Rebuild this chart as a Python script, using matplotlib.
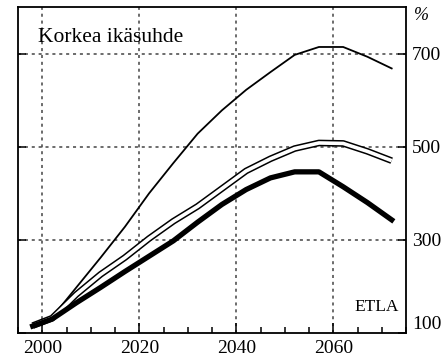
import matplotlib
matplotlib.use("Agg")
import matplotlib.pyplot as plt
from matplotlib.ticker import MultipleLocator

years = [1998, 2002, 2007, 2012, 2017, 2022, 2027, 2032, 2037, 2042,
         2047, 2052, 2057, 2062, 2067, 2072]
high = [116, 134, 198, 262, 328, 400, 465, 528, 578, 622,
        660, 697, 714, 714, 693, 668]
middle = [116, 132, 183, 226, 262, 303, 340, 372, 410, 448,
          474, 496, 508, 507, 490, 470]
low = [115, 130, 165, 198, 232, 265, 298, 338, 376, 408,
       433, 446, 446, 414, 380, 343]

x_ticks = [2000, 2020, 2040, 2060]
y_ticks = [100, 300, 500, 700]

plt.rcParams['font.family'] = ['Liberation Serif', 'DejaVu Serif']

fig = plt.figure(figsize=(4.43, 3.64), dpi=100)
ax = fig.add_axes([0.041, 0.085, 0.876, 0.896])

# dotted grid
for x in x_ticks:
    ax.axvline(x, color="#444444", lw=1.1, ls=(0, (2, 2.5)), zorder=1)
for y in y_ticks[1:]:
    ax.axhline(y, color="#444444", lw=1.1, ls=(0, (2, 2.5)), zorder=1)

ax.plot(years, high, color="black", lw=1.3, zorder=3)
# hollow double line
ax.plot(years, middle, color="black", lw=4.8, zorder=3, solid_capstyle="butt")
ax.plot(years, middle, color="white", lw=2.6, zorder=4, solid_capstyle="butt")
ax.plot(years, low, color="black", lw=3.8, zorder=5)

ax.set_xlim(1995, 2075)
ax.set_ylim(100, 800)

ax.set_xticks(x_ticks)
ax.xaxis.set_minor_locator(MultipleLocator(5))
ax.set_yticks(y_ticks)
ax.tick_params(axis="x", which="major", direction="in", length=7, width=1.1,
               labelsize=14, pad=5)
ax.tick_params(axis="x", which="minor", direction="in", length=4, width=1.1)
ax.tick_params(axis="y", direction="in", length=6, width=1.1, labelsize=14,
               left=True, right=True, labelleft=False, labelright=True, pad=4)
ax.get_yticklabels()[0].set_va("bottom")

for s in ax.spines.values():
    s.set_linewidth(1.3)

ax.text(0.05, 0.905, "Korkea ikäsuhde", transform=ax.transAxes, fontsize=15.5,
        va="center", ha="left")
ax.text(0.98, 0.08, "ETLA", transform=ax.transAxes, fontsize=12.5,
        va="center", ha="right")
ax.text(1.02, 0.975, "%", transform=ax.transAxes, fontsize=13,
        va="center", ha="left", style="italic")

fig.savefig("out.png", dpi=100)
